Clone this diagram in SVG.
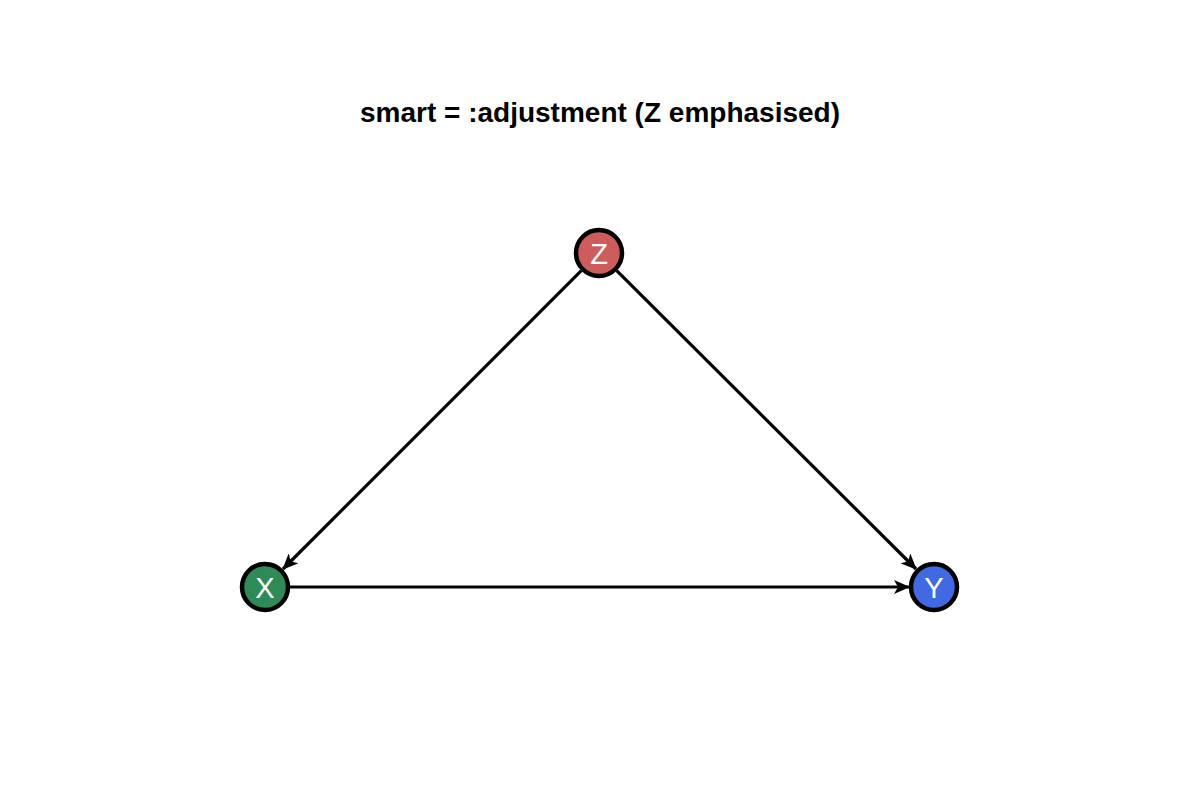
<svg xmlns="http://www.w3.org/2000/svg" width="1200" height="800" viewBox="0 0 1200 800">
<style>
.title{font-family:"Liberation Sans",Arial,sans-serif;font-weight:bold;font-size:28px;fill:#000;text-anchor:middle}
.node circle{stroke:#000;stroke-width:4.5}
.node text{font-family:"Liberation Sans",Arial,sans-serif;font-size:29px;fill:#fff;text-anchor:middle;dominant-baseline:central}
.edge{stroke:#000;stroke-width:3.2;fill:none;marker-end:url(#arr)}
</style>
<defs>
<marker id="arr" markerUnits="userSpaceOnUse" viewBox="0 0 16 14" refX="15" refY="7" markerWidth="16" markerHeight="14" orient="auto">
<path d="M0,0 L16,7 L0,14 L4,7 Z" fill="#000"/>
</marker>
</defs>
<rect width="1200" height="800" fill="#fff"/>
<text class="title" x="600" y="122">smart = :adjustment (Z emphasised)</text>
<g id="edges">
<line class="edge" x1="581.3" y1="270.7" x2="283" y2="569"/>
<line class="edge" x1="616.7" y1="270.7" x2="916" y2="569"/>
<line class="edge" x1="290" y1="587" x2="909" y2="587"/>
</g>
<g id="node-Z" class="node"><circle cx="599" cy="253" r="23" fill="#CD5C5C"/><text x="599" y="254">Z</text></g>
<g id="node-X" class="node"><circle cx="265" cy="587" r="23" fill="#2E8B57"/><text x="265" y="588">X</text></g>
<g id="node-Y" class="node"><circle cx="934" cy="587" r="23" fill="#4169E1"/><text x="934" y="588">Y</text></g>
</svg>
